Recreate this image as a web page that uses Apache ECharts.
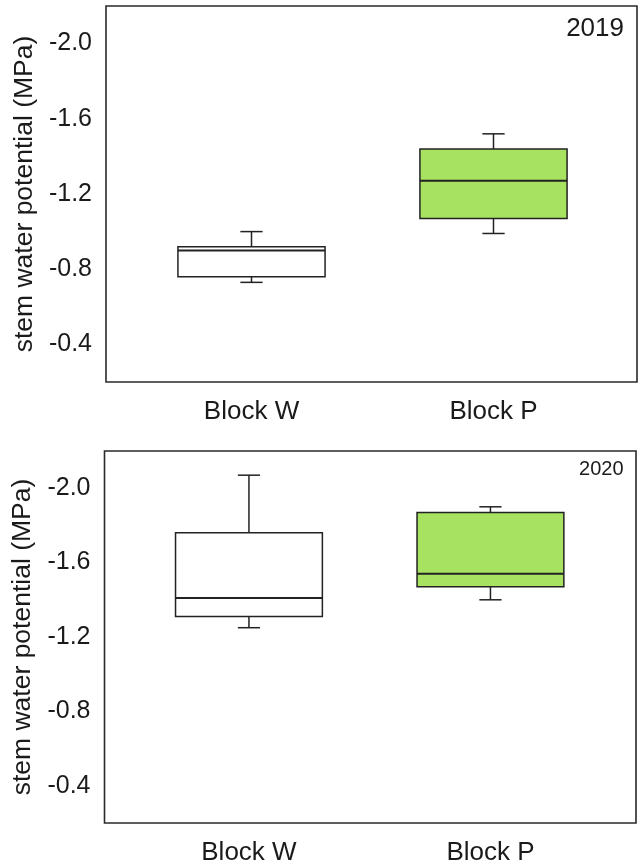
<!DOCTYPE html>
<html>
<head>
<meta charset="utf-8">
<script src="https://cdn.jsdelivr.net/npm/echarts@6/dist/echarts.min.js"></script>
<style>
html,body{margin:0;padding:0;background:#fff;}
#chart{width:639px;height:866px;}
</style>
</head>
<body>
<div id="chart"></div>
<script>
// ---- data ----
const categories = ['Block W', 'Block P'];
// [lower whisker, Q1, median, Q3, upper whisker] (MPa; more negative plotted upward)
const box2019W = [-1.00, -0.92, -0.90, -0.76, -0.73];
const box2019P = [-1.52, -1.44, -1.27, -1.07, -0.99];
const box2020W = [-2.07, -1.76, -1.41, -1.31, -1.25];
const box2020P = [-1.90, -1.87, -1.54, -1.47, -1.40];
const yearLabels = ['2019', '2020'];
const yTickLabels = ['-2.0', '-1.6', '-1.2', '-0.8', '-0.4'];
const yAxisTitle = 'stem water potential (MPa)';
const fills = ['#ffffff', '#a7e360'];

const FONT = '"Liberation Sans", Arial, sans-serif';
const TXT = '#1a1a1a';
const STROKE = '#222';

function renderBox(params, api) {
  const cat = api.value(0);
  const pts = [1,2,3,4,5].map(i => api.coord([cat, api.value(i)]));
  const band = api.size([1, 0])[0];
  const half = band * 0.304;
  const cap = band * 0.046;
  const cx = pts[0][0];
  const top = Math.min(pts[1][1], pts[3][1]);
  const bot = Math.max(pts[1][1], pts[3][1]);
  const lineStyle = {stroke: STROKE, lineWidth: 1.5, fill: null};
  return {
    type: 'group',
    children: [
      {type: 'line', shape: {x1: cx, y1: pts[0][1], x2: cx, y2: pts[1][1]}, style: lineStyle},
      {type: 'line', shape: {x1: cx, y1: pts[3][1], x2: cx, y2: pts[4][1]}, style: lineStyle},
      {type: 'line', shape: {x1: cx - cap, y1: pts[0][1], x2: cx + cap, y2: pts[0][1]}, style: lineStyle},
      {type: 'line', shape: {x1: cx - cap, y1: pts[4][1], x2: cx + cap, y2: pts[4][1]}, style: lineStyle},
      {type: 'rect', shape: {x: cx - half, y: top, width: half * 2, height: bot - top},
        style: {fill: fills[cat], stroke: STROKE, lineWidth: 1.5}},
      {type: 'line', shape: {x1: cx - half, y1: pts[2][1], x2: cx + half, y2: pts[2][1]},
        style: {stroke: STROKE, lineWidth: 2}}
    ]
  };
}

const yMin = -2.2, yMax = -0.2;
function yLabelFmt(v) {
  const s = v.toFixed(1);
  return yTickLabels.indexOf(s) >= 0 ? s : '';
}

const panels = [
  {frame: {left: 106, top: 6, width: 531, height: 376}, data: {left: 130.5, width: 484}, boxes: [box2019W, box2019P]},
  {frame: {left: 104.5, top: 451, width: 531.5, height: 372}, data: {left: 128.2, width: 483}, boxes: [box2020W, box2020P]}
];

const grid = [], xAxis = [], yAxis = [], series = [];
panels.forEach((p, i) => {
  const fi = grid.length;
  grid.push({left: p.frame.left, top: p.frame.top, width: p.frame.width, height: p.frame.height,
    show: true, borderColor: '#2a2a2a', borderWidth: 1.6, backgroundColor: 'transparent'});
  grid.push({left: p.data.left, top: p.frame.top, width: p.data.width, height: p.frame.height});
  xAxis.push({gridIndex: fi, type: 'category', data: categories, show: false});
  xAxis.push({gridIndex: fi + 1, type: 'category', data: categories,
    axisLine: {show: false}, axisTick: {show: false}, splitLine: {show: false},
    axisLabel: {fontSize: 26, color: TXT, fontFamily: FONT, margin: 17}});
  yAxis.push({gridIndex: fi, type: 'value', min: yMin, max: yMax, interval: 0.2, inverse: true,
    axisLine: {show: false}, axisTick: {show: false}, splitLine: {show: false},
    axisLabel: {fontSize: 25, color: TXT, fontFamily: FONT, margin: 14, formatter: yLabelFmt},
    name: yAxisTitle, nameLocation: 'middle', nameGap: 67,
    nameTextStyle: {fontSize: 26.5, color: TXT, fontFamily: FONT}});
  yAxis.push({gridIndex: fi + 1, type: 'value', min: yMin, max: yMax, interval: 0.2, inverse: true, show: false});
  series.push({
    type: 'custom', xAxisIndex: fi + 1, yAxisIndex: fi + 1,
    renderItem: renderBox,
    encode: {x: 0, y: [1, 2, 3, 4, 5]},
    data: p.boxes.map((b, k) => [k].concat(b))
  });
});

const chart = echarts.init(document.getElementById('chart'));
chart.setOption({
  animation: false,
  backgroundColor: '#ffffff',
  title: [
    {text: yearLabels[0], right: 15, top: 16, padding: 0, textStyle: {fontSize: 26, fontWeight: 'normal', color: TXT, fontFamily: FONT}},
    {text: yearLabels[1], right: 15.5, top: 459, padding: 0, textStyle: {fontSize: 20, fontWeight: 'normal', color: TXT, fontFamily: FONT}}
  ],
  grid: grid, xAxis: xAxis, yAxis: yAxis, series: series
});
</script>
</body>
</html>
